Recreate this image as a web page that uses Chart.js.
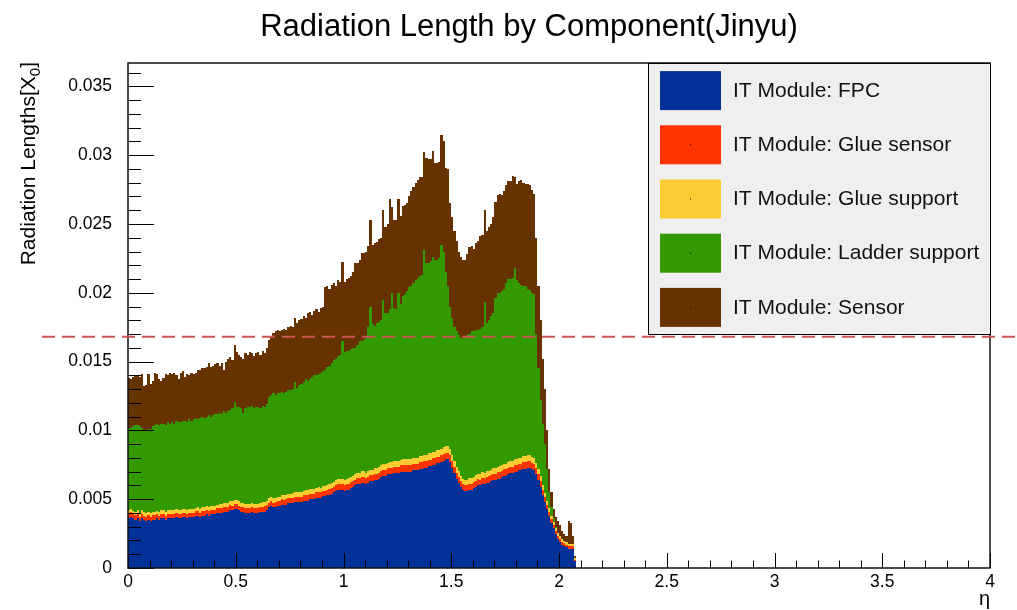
<!DOCTYPE html>
<html><head><meta charset="utf-8">
<script src="https://cdn.jsdelivr.net/npm/chart.js@4/dist/chart.umd.min.js"></script>
<style>html,body{margin:0;padding:0;background:#fff;}canvas{display:block;}</style>
</head><body>
<canvas id="c" width="1017" height="610"></canvas>
<script>
const chartTitle = 'Radiation Length by Component(Jinyu)';
const yAxisTitle = 'Radiation Lengths[X';
const yAxisTitleSub = '0';
const xAxisTitle = 'η';
const seriesNames = ['IT Module: FPC','IT Module: Glue sensor','IT Module: Glue support','IT Module: Ladder support','IT Module: Sensor'];
const seriesColors = ['#03319a','#ff3300','#fccc33','#339900','#663300'];
const binWidth = 0.01;
const etaBins = Array.from({length: 208}, (_, i) => +((i + 0.5) * binWidth).toFixed(3));

const fpc = [0.0036,0.0037,0.0036,0.0035,0.0036,0.0034,0.0036,0.0035,0.0034,0.0035,
0.0034,0.0035,0.0035,0.0036,0.0035,0.0036,0.0036,0.0035,0.0036,0.0036,
0.0036,0.0036,0.0037,0.0036,0.0036,0.0037,0.0037,0.0036,0.0037,0.0037,
0.0037,0.0038,0.0038,0.0037,0.0038,0.0038,0.0039,0.0038,0.0039,0.0039,
0.0039,0.0040,0.0040,0.0040,0.0041,0.0041,0.0041,0.0042,0.0042,0.0043,
0.0043,0.0042,0.0041,0.0041,0.0040,0.0040,0.0040,0.0041,0.0040,0.0040,
0.0040,0.0041,0.0041,0.0041,0.0042,0.0044,0.0045,0.0044,0.0044,0.0045,
0.0045,0.0046,0.0046,0.0046,0.0047,0.0047,0.0047,0.0048,0.0048,0.0048,
0.0048,0.0049,0.0049,0.0049,0.0050,0.0050,0.0050,0.0051,0.0051,0.0051,
0.0052,0.0052,0.0053,0.0053,0.0054,0.0055,0.0056,0.0057,0.0057,0.0057,
0.0056,0.0057,0.0057,0.0058,0.0059,0.0060,0.0061,0.0061,0.0062,0.0062,
0.0061,0.0062,0.0063,0.0063,0.0064,0.0064,0.0065,0.0066,0.0067,0.0067,
0.0068,0.0068,0.0068,0.0069,0.0069,0.0069,0.0070,0.0070,0.0070,0.0070,
0.0070,0.0070,0.0071,0.0071,0.0071,0.0072,0.0072,0.0073,0.0073,0.0074,
0.0074,0.0075,0.0075,0.0076,0.0076,0.0077,0.0078,0.0079,0.0079,0.0077,
0.0073,0.0069,0.0065,0.0062,0.0059,0.0057,0.0056,0.0056,0.0057,0.0057,
0.0058,0.0059,0.0060,0.0060,0.0061,0.0061,0.0062,0.0062,0.0063,0.0064,
0.0064,0.0065,0.0065,0.0066,0.0067,0.0067,0.0068,0.0069,0.0069,0.0070,
0.0070,0.0071,0.0071,0.0072,0.0072,0.0073,0.0073,0.0072,0.0071,0.0068,
0.0064,0.0059,0.0053,0.0048,0.0043,0.0038,0.0033,0.0029,0.0025,0.0021,
0.0019,0.0017,0.0016,0.0015,0.0014,0.0014,0.0014,0.0005];

const glueSensor = [0.00032,0.00034,0.00030,0.00032,0.00033,0.00031,0.00032,0.00030,0.00033,0.00032,
0.00031,0.00032,0.00033,0.00032,0.00030,0.00032,0.00033,0.00031,0.00032,0.00032,
0.00032,0.00033,0.00031,0.00032,0.00034,0.00032,0.00031,0.00033,0.00032,0.00033,
0.00033,0.00032,0.00034,0.00033,0.00033,0.00032,0.00034,0.00033,0.00034,0.00033,
0.00034,0.00033,0.00035,0.00034,0.00033,0.00035,0.00034,0.00035,0.00034,0.00036,
0.00035,0.00034,0.00035,0.00036,0.00035,0.00034,0.00036,0.00035,0.00035,0.00036,
0.00036,0.00035,0.00036,0.00037,0.00036,0.00036,0.00037,0.00036,0.00038,0.00037,
0.00037,0.00038,0.00037,0.00038,0.00038,0.00037,0.00039,0.00038,0.00038,0.00039,
0.00039,0.00038,0.00040,0.00039,0.00039,0.00040,0.00039,0.00040,0.00041,0.00040,
0.00040,0.00041,0.00040,0.00041,0.00042,0.00041,0.00041,0.00042,0.00041,0.00042,
0.00042,0.00041,0.00043,0.00042,0.00042,0.00043,0.00042,0.00043,0.00044,0.00043,
0.00043,0.00044,0.00043,0.00044,0.00044,0.00045,0.00044,0.00045,0.00044,0.00045,
0.00045,0.00045,0.00046,0.00045,0.00046,0.00046,0.00045,0.00046,0.00047,0.00046,
0.00046,0.00047,0.00046,0.00047,0.00047,0.00048,0.00047,0.00048,0.00047,0.00048,
0.00048,0.00048,0.00049,0.00048,0.00049,0.00049,0.00050,0.00049,0.00049,0.00048,
0.00046,0.00045,0.00044,0.00043,0.00042,0.00042,0.00042,0.00043,0.00042,0.00043,
0.00043,0.00043,0.00044,0.00043,0.00044,0.00044,0.00044,0.00045,0.00044,0.00045,
0.00045,0.00045,0.00046,0.00045,0.00046,0.00046,0.00046,0.00047,0.00046,0.00047,
0.00047,0.00047,0.00048,0.00047,0.00048,0.00048,0.00047,0.00046,0.00045,0.00044,
0.00042,0.00040,0.00037,0.00034,0.00031,0.00028,0.00026,0.00024,0.00022,0.00021,
0.00020,0.00020,0.00019,0.00019,0.00018,0.00018,0.00018,0.00010];

const glueSupport = [0.00026,0.00028,0.00025,0.00027,0.00026,0.00025,0.00027,0.00026,0.00025,0.00026,
0.00026,0.00027,0.00026,0.00025,0.00027,0.00026,0.00026,0.00027,0.00026,0.00027,
0.00027,0.00026,0.00027,0.00027,0.00028,0.00027,0.00026,0.00028,0.00027,0.00027,
0.00028,0.00027,0.00028,0.00028,0.00027,0.00028,0.00029,0.00028,0.00028,0.00029,
0.00029,0.00028,0.00029,0.00029,0.00030,0.00029,0.00029,0.00030,0.00030,0.00030,
0.00030,0.00030,0.00029,0.00030,0.00030,0.00031,0.00030,0.00030,0.00031,0.00030,
0.00031,0.00030,0.00031,0.00031,0.00032,0.00031,0.00032,0.00031,0.00032,0.00032,
0.00032,0.00032,0.00033,0.00032,0.00033,0.00033,0.00033,0.00034,0.00033,0.00034,
0.00034,0.00034,0.00034,0.00035,0.00034,0.00035,0.00035,0.00035,0.00036,0.00035,
0.00036,0.00035,0.00036,0.00036,0.00037,0.00036,0.00037,0.00037,0.00037,0.00038,
0.00037,0.00038,0.00038,0.00038,0.00039,0.00038,0.00039,0.00039,0.00039,0.00040,
0.00039,0.00040,0.00040,0.00040,0.00041,0.00040,0.00041,0.00041,0.00041,0.00042,
0.00041,0.00042,0.00042,0.00042,0.00043,0.00042,0.00043,0.00043,0.00043,0.00044,
0.00043,0.00044,0.00044,0.00044,0.00045,0.00044,0.00045,0.00045,0.00045,0.00046,
0.00045,0.00046,0.00046,0.00046,0.00047,0.00046,0.00047,0.00047,0.00046,0.00045,
0.00043,0.00041,0.00040,0.00039,0.00039,0.00038,0.00038,0.00039,0.00039,0.00039,
0.00039,0.00040,0.00040,0.00040,0.00041,0.00040,0.00041,0.00041,0.00041,0.00042,
0.00042,0.00042,0.00042,0.00043,0.00043,0.00043,0.00044,0.00044,0.00044,0.00044,
0.00044,0.00045,0.00045,0.00045,0.00045,0.00045,0.00044,0.00043,0.00042,0.00041,
0.00039,0.00037,0.00034,0.00031,0.00028,0.00026,0.00024,0.00022,0.00021,0.00020,
0.00019,0.00019,0.00018,0.00018,0.00017,0.00017,0.00017,0.00010];

const ladderSupport = [0.00602,0.00588,0.00615,0.00631,0.00621,0.00634,0.00601,0.00594,0.00602,0.00602,
0.00613,0.00621,0.00631,0.00633,0.00633,0.00632,0.00631,0.00632,0.00642,0.00631,
0.00641,0.00631,0.00642,0.00641,0.00638,0.00641,0.00643,0.00639,0.00651,0.00640,
0.00649,0.00651,0.00638,0.00659,0.00660,0.00650,0.00647,0.00669,0.00648,0.00658,
0.00667,0.00659,0.00666,0.00657,0.00667,0.00656,0.00667,0.00665,0.00676,0.00714,
0.00675,0.00686,0.00686,0.00654,0.00695,0.00705,0.00704,0.00705,0.00694,0.00704,
0.00703,0.00685,0.00703,0.00692,0.00702,0.00733,0.00741,0.00763,0.00750,0.00751,
0.00751,0.00750,0.00740,0.00750,0.00749,0.00750,0.00758,0.00798,0.00759,0.00777,
0.00787,0.00788,0.00806,0.00796,0.00797,0.00815,0.00826,0.00815,0.00823,0.00835,
0.00834,0.00844,0.00854,0.00863,0.00871,0.00883,0.00882,0.00891,0.00902,0.01001,
0.00931,0.00931,0.00929,0.00930,0.00929,0.00919,0.00929,0.00958,0.00947,0.00957,
0.00988,0.01046,0.01187,0.01056,0.01035,0.01055,0.01055,0.01054,0.01195,0.01093,
0.01084,0.01113,0.01232,0.01113,0.01101,0.01222,0.01132,0.01191,0.01200,0.01220,
0.01251,0.01259,0.01270,0.01289,0.01308,0.01308,0.01318,0.01487,0.01398,0.01386,
0.01397,0.01416,0.01395,0.01386,0.01394,0.01485,0.01423,0.01264,0.01165,0.01037,
0.01001,0.00974,0.00986,0.00988,0.00999,0.01020,0.01030,0.01048,0.01049,0.01068,
0.01058,0.01057,0.01046,0.01057,0.01055,0.01236,0.01075,0.01094,0.01115,0.01123,
0.01233,0.01263,0.01262,0.01262,0.01271,0.01311,0.01330,0.01319,0.01330,0.01389,
0.01299,0.01268,0.01257,0.01238,0.01237,0.01207,0.01199,0.01191,0.01193,0.00935,
0.00729,0.00553,0.00449,0.00355,0.00231,0.00116,0.00060,0.00024,0.00007,0,
0,0,0,0,0,0,0,0];

const sensor = [0.0036,0.0035,0.0036,0.0036,0.0036,0.0036,0.0039,0.0032,0.0033,0.0040,
0.0033,0.0033,0.0038,0.0036,0.0033,0.0031,0.0033,0.0037,0.0034,0.0037,
0.0035,0.0037,0.0033,0.0031,0.0036,0.0036,0.0032,0.0035,0.0032,0.0035,
0.0033,0.0033,0.0036,0.0035,0.0035,0.0036,0.0036,0.0038,0.0036,0.0036,
0.0036,0.0037,0.0034,0.0037,0.0030,0.0037,0.0038,0.0038,0.0035,0.0041,
0.0040,0.0038,0.0037,0.0039,0.0040,0.0038,0.0040,0.0038,0.0038,0.0039,
0.0040,0.0039,0.0040,0.0039,0.0041,0.0042,0.0042,0.0044,0.0046,0.0046,
0.0045,0.0045,0.0047,0.0045,0.0046,0.0047,0.0045,0.0047,0.0047,0.0047,
0.0047,0.0048,0.0045,0.0049,0.0049,0.0045,0.0047,0.0048,0.0045,0.0047,
0.0047,0.0060,0.0059,0.0056,0.0057,0.0056,0.0053,0.0055,0.0053,0.0057,
0.0051,0.0052,0.0053,0.0053,0.0055,0.0062,0.0060,0.0059,0.0064,0.0063,
0.0062,0.0059,0.0063,0.0058,0.0060,0.0059,0.0060,0.0060,0.0065,0.0063,
0.0065,0.0080,0.0062,0.0064,0.0065,0.0068,0.0064,0.0065,0.0065,0.0064,
0.0066,0.0069,0.0070,0.0071,0.0071,0.0072,0.0071,0.0071,0.0076,0.0075,
0.0074,0.0077,0.0070,0.0070,0.0070,0.0080,0.0080,0.0076,0.0085,0.0075,
0.0073,0.0070,0.0066,0.0061,0.0059,0.0057,0.0057,0.0059,0.0063,0.0062,
0.0060,0.0063,0.0065,0.0067,0.0067,0.0067,0.0067,0.0068,0.0067,0.0070,
0.0070,0.0071,0.0072,0.0070,0.0071,0.0071,0.0071,0.0071,0.0074,0.0066,
0.0070,0.0074,0.0076,0.0075,0.0074,0.0076,0.0076,0.0075,0.0073,0.0070,
0.0060,0.0058,0.0047,0.0040,0.0028,0.0017,0.0011,0.0007,0.0007,0.0009,
0.0008,0.0006,0.00053,0.00043,0.00165,0.00155,0.00055,0.0002];

const seriesData = [fpc, glueSensor, glueSupport, ladderSupport, sensor];
const thresholdValue = 0.0168;
const yMin = 0, yMax = 0.0367;
const yTicks = [0,0.005,0.01,0.015,0.02,0.025,0.03,0.035];
const yTickLabels = ['0','0.005','0.01','0.015','0.02','0.025','0.03','0.035'];
const yMinorStep = 0.001;
const xMin = 0, xMax = 4;
const xTicks = [0,0.5,1,1.5,2,2.5,3,3.5,4];
const xTickLabels = ['0','0.5','1','1.5','2','2.5','3','3.5','4'];
const xMinorStep = 0.1;

const FONT = '"Liberation Sans", Arial, Helvetica, sans-serif';

// snap the bar rectangles computed by the scales onto whole pixels (no antialiasing seams)
const pixelSnap = {
  id: 'pixelSnap',
  afterDatasetsUpdate(chart) {
    chart.data.datasets.forEach((ds, di) => {
      chart.getDatasetMeta(di).data.forEach(el => {
        const l = Math.round(el.x - el.width / 2);
        const r = Math.round(el.x + el.width / 2);
        el.x = (l + r) / 2;
        el.width = r - l;
        el.y = Math.round(el.y);
        el.base = Math.round(el.base);
      });
    });
  }
};

const rootDecor = {
  id: 'rootDecor',
  afterDatasetsDraw(chart) {
    const {ctx, chartArea: a, scales: {x, y}} = chart;
    ctx.save();
    ctx.strokeStyle = '#000';
    ctx.lineWidth = 1;
    const nY = Math.round((yMax - yMin) / yMinorStep);
    for (let k = 0; k <= nY; k++) {
      const v = yMin + k * yMinorStep;
      if (v > yMax) break;
      const py = Math.round(y.getPixelForValue(v)) + 0.5;
      const len = (k % 5 === 0) ? 26 : 13;
      ctx.beginPath(); ctx.moveTo(a.left, py); ctx.lineTo(a.left + len, py); ctx.stroke();
    }
    const nX = Math.round((xMax - xMin) / xMinorStep);
    for (let k = 0; k <= nX; k++) {
      const v = xMin + k * xMinorStep;
      const px = Math.round(x.getPixelForValue(v)) + 0.5;
      const len = (k % 5 === 0) ? 15 : 7.5;
      ctx.beginPath(); ctx.moveTo(px, a.bottom); ctx.lineTo(px, a.bottom - len); ctx.stroke();
    }
    ctx.lineWidth = 1.5;
    ctx.strokeStyle = '#111';
    ctx.strokeRect(a.left, a.top, a.right - a.left, a.bottom - a.top);
    ctx.restore();
  },
  afterDraw(chart) {
    const {ctx, chartArea: a, scales: {y}} = chart;
    ctx.save();
    ctx.fillStyle = '#000';
    ctx.font = '31px ' + FONT;
    ctx.textAlign = 'center';
    ctx.textBaseline = 'alphabetic';
    ctx.fillText(chartTitle, 529, 36);
    ctx.save();
    ctx.translate(35, a.top - 1);
    ctx.rotate(-Math.PI / 2);
    ctx.textAlign = 'right';
    ctx.font = '21px ' + FONT;
    const wClose = ctx.measureText(']').width;
    ctx.fillText(']', 0, 0);
    ctx.font = '15px ' + FONT;
    const wSub = ctx.measureText(yAxisTitleSub).width;
    ctx.fillText(yAxisTitleSub, -wClose, 5);
    ctx.font = '21px ' + FONT;
    ctx.fillText(yAxisTitle, -wClose - wSub, 0);
    ctx.restore();
    ctx.font = '20px ' + FONT;
    ctx.textAlign = 'right';
    ctx.fillText(xAxisTitle, a.right, 605);
    const lw = 342, lh = 271;
    const lx = a.right - lw, ly = a.top;
    ctx.fillStyle = '#efefef';
    ctx.fillRect(lx, ly, lw, lh);
    ctx.strokeStyle = '#000';
    ctx.lineWidth = 1;
    ctx.strokeRect(lx + 0.5, ly + 0.5, lw, lh);
    ctx.font = '21px ' + FONT;
    ctx.textAlign = 'left';
    ctx.textBaseline = 'middle';
    const rowH = lh / seriesNames.length;
    seriesNames.forEach((name, k) => {
      const cy = ly + rowH * (k + 0.5);
      ctx.fillStyle = seriesColors[k];
      ctx.fillRect(lx + 12, cy - 19, 61, 39);
      ctx.fillStyle = '#000';
      ctx.fillRect(lx + 42, cy, 1, 1);
      ctx.fillStyle = '#111';
      ctx.fillText(name, lx + 85, cy + 1);
    });
    const ty = y.getPixelForValue(thresholdValue);
    ctx.strokeStyle = '#cc5555';
    ctx.lineWidth = 2;
    ctx.setLineDash([13, 7]);
    ctx.beginPath();
    ctx.moveTo(42, ty);
    ctx.lineTo(chart.width, ty);
    ctx.stroke();
    ctx.restore();
  }
};

new Chart(document.getElementById('c'), {
  type: 'bar',
  data: {
    labels: etaBins,
    datasets: seriesNames.map((name, k) => ({
      label: name,
      data: seriesData[k],
      backgroundColor: seriesColors[k],
      borderWidth: 0,
      inflateAmount: 0,
      categoryPercentage: 1,
      barPercentage: 1
    }))
  },
  options: {
    responsive: false,
    animation: false,
    devicePixelRatio: 1,
    layout: {padding: {top: 63, right: 27, left: 0, bottom: 0}},
    plugins: {legend: {display: false}, title: {display: false}, tooltip: {enabled: false}},
    scales: {
      x: {
        type: 'linear', min: xMin, max: xMax, stacked: true, offset: false,
        grid: {display: false, drawTicks: false}, border: {display: false},
        afterBuildTicks: s => { s.ticks = xTicks.map(v => ({value: v})); },
        afterFit: s => { s.height = 42; },
        ticks: {autoSkip: false, maxRotation: 0, minRotation: 0, padding: 4, color: '#000',
          font: {family: FONT, size: 17.5}, callback: (v, i) => xTickLabels[i]}
      },
      y: {
        type: 'linear', min: yMin, max: yMax, stacked: true,
        grid: {display: false, drawTicks: false}, border: {display: false},
        afterBuildTicks: s => { s.ticks = yTicks.map(v => ({value: v})); },
        afterFit: s => { s.width = 128; },
        ticks: {autoSkip: false, padding: 16, color: '#000',
          font: {family: FONT, size: 17.5}, callback: (v, i) => yTickLabels[i]}
      }
    }
  },
  plugins: [pixelSnap, rootDecor]
});
</script>
</body></html>
